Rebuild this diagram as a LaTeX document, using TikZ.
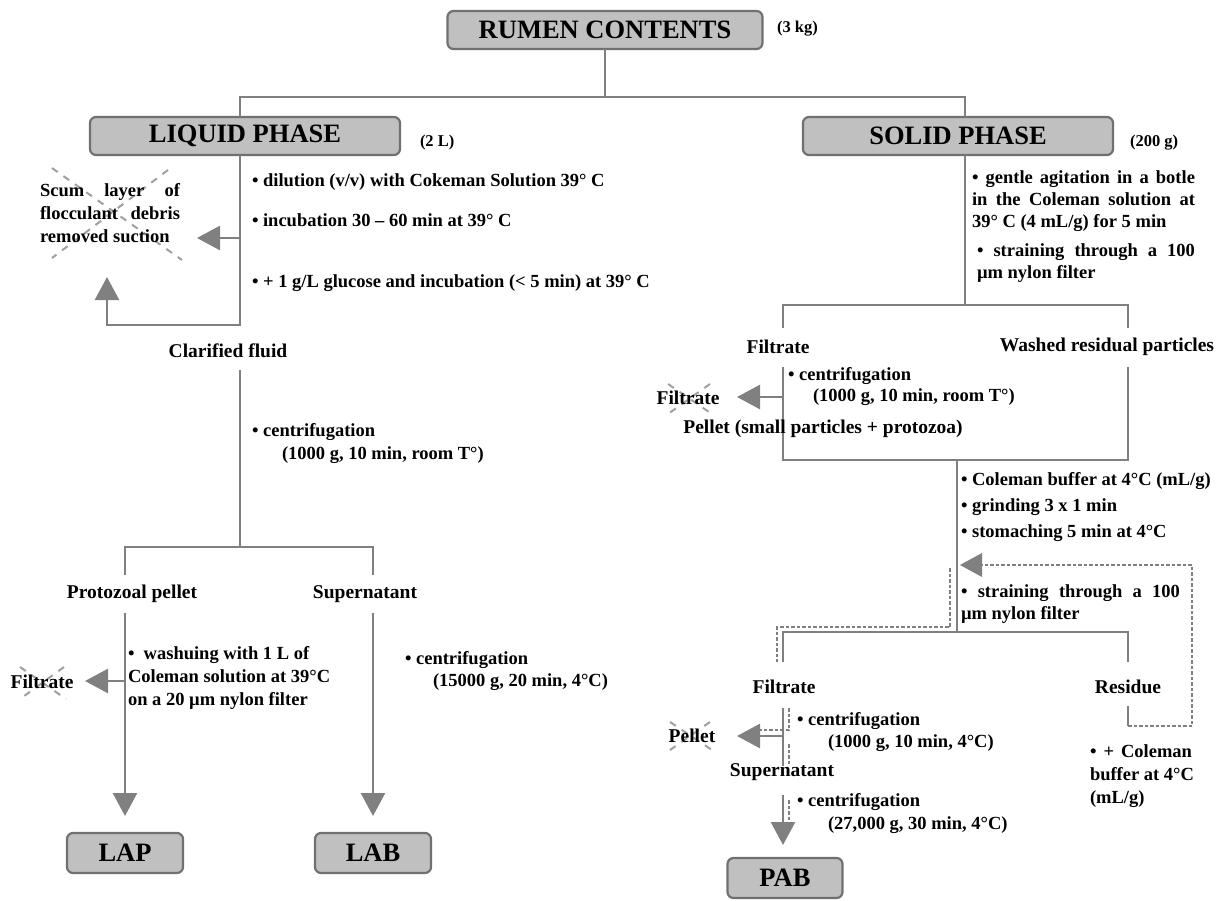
\documentclass[tikz,border=0pt]{standalone}
\usepackage{fontspec}
\setmainfont{Liberation Serif}
\usetikzlibrary{arrows.meta}
\definecolor{lngray}{RGB}{128,128,128}
\definecolor{boxfill}{RGB}{192,192,192}
\definecolor{boxdraw}{RGB}{112,112,112}
\definecolor{crossgray}{RGB}{160,160,160}
\begin{document}
\begin{tikzpicture}[x=1pt,y=-1pt,
  every node/.style={inner sep=0pt, outer sep=0pt},
  title/.style={draw=boxdraw, fill=boxfill, line width=2.2pt, rounded corners=6pt,
    font=\fontsize{26.5}{30}\selectfont\bfseries, minimum height=38pt},
  txt/.style={font=\fontsize{18.5}{23}\selectfont\bfseries, align=left},
  txtb/.style={font=\fontsize{18.5}{22}\selectfont\bfseries, align=left},
  lbl/.style={font=\fontsize{19.5}{23}\selectfont\bfseries},
  small/.style={font=\fontsize{16.5}{19}\selectfont\bfseries},
  ln/.style={draw=lngray, line width=2.6pt},
  arr/.style={ln, -{Triangle[length=23pt,width=24pt]}},
  xcross/.style={draw=crossgray, line width=2pt, dash pattern=on 7pt off 7pt},
  dsh/.style={draw=lngray, line width=1.3pt, dash pattern=on 3.5pt off 2pt}]
\useasboundingbox[fill=white] (0,0) rectangle (1224,900);

% ---------- top ----------
\node[title, minimum width=315pt] (rumen) at (605,30) {RUMEN CONTENTS};
\node[small, anchor=west] (kg) at (777,29) {(3 kg)};
\node[title, minimum width=310pt] (liquid) at (245,136) {LIQUID PHASE};
\node[small, anchor=west] (twoL) at (420,143) {(2 L)};
\node[title, minimum width=310pt] (solid) at (958,136) {SOLID PHASE};
\node[small, anchor=west] (g200) at (1130,143) {(200 g)};
\coordinate (top) at (605,97);
\coordinate (topL) at (240,97);
\coordinate (topR) at (965,97);
\draw[ln] (rumen.south) -- (top);
\draw[ln] (topL |- liquid.north) -- (topL) -- (topR) -- (topR |- solid.north);

% ---------- liquid phase ----------
\draw[xcross] (52,168) -- (182,260);
\draw[xcross] (168,170) -- (52,258);
\node[txt] (scum) at (110,213) {\makebox[140pt][s]{Scum layer of}\\\makebox[140pt][s]{flocculant debris}\\removed suction};
\coordinate (lqA) at (240,238);
\coordinate (lqB) at (240,325);
\coordinate (lqC) at (107,325);
\coordinate (scumR) at (197,238);
\coordinate (scumB) at (107,277);
\draw[arr] (liquid.south -| topL) -- (lqB) -- (lqC) -- (scumB);
\draw[arr] (lqA) -- (scumR);
\node[txt, anchor=west] (b1) at (252,182) {\textbullet\ dilution (v/v) with Cokeman Solution 39° C};
\node[txt, anchor=west] (b2) at (252,220) {\textbullet\ incubation 30 – 60 min at 39° C};
\node[txt, anchor=west] (b3) at (252,283) {\textbullet\ + 1 g/L glucose and incubation (< 5 min) at 39° C};
\node[lbl] (clar) at (228,351) {Clarified fluid};
\coordinate (lqE) at (240,370);
\coordinate (lqD) at (240,547);
\draw[ln] (lqE) -- (lqD);
\node[txt, anchor=west] (c1) at (252,432) {\textbullet\ centrifugation};
\node[txt, anchor=west] (c1b) at (282,455) {(1000 g, 10 min, room T°)};
\coordinate (lpL) at (125,547);
\coordinate (lpR) at (373,547);
\coordinate (lpL2) at (125,575);
\coordinate (lpR2) at (373,575);
\draw[ln] (lpL2) -- (lpL) -- (lpR) -- (lpR2);
\node[lbl] (proto) at (132,594) {Protozoal pellet};
\node[lbl] (super) at (365,594) {Supernatant};
\node[title, minimum width=116pt, minimum height=40pt] (lap) at (125,853) {LAP};
\node[title, minimum width=116pt, minimum height=40pt] (lab) at (373,853) {LAB};
\coordinate (lapT) at (125,613);
\coordinate (lapE) at (125,816);
\coordinate (labT) at (373,613);
\coordinate (labE) at (373,816);
\draw[arr] (lapT) -- (lapE);
\draw[arr] (labT) -- (labE);
\coordinate (fl1) at (125,681);
\coordinate (fl1E) at (85,681);
\draw[arr] (fl1) -- (fl1E);
\draw[xcross] (20,667) -- (66,699);
\draw[xcross] (64,667) -- (20,699);
\node[lbl] (filt1) at (42,682) {Filtrate};
\node[txt, anchor=north west] (wash) at (128,646) {\textbullet\ \ washuing with 1 L of\\Coleman solution at 39°C\\on a 20 µm nylon filter};
\node[txt, anchor=west] (c2) at (405,660) {\textbullet\ centrifugation};
\node[txt, anchor=west] (c2b) at (433,682) {(15000 g, 20 min, 4°C)};

% ---------- solid phase ----------
\node[txtb, anchor=north west] (ga) at (972,171) {\makebox[223pt][s]{\textbullet\ gentle agitation in a botle}\\\makebox[223pt][s]{in the Coleman solution at}\\39° C (4 mL/g) for 5 min};
\node[txtb, anchor=north west] (st1) at (977,244) {\makebox[218pt][s]{\textbullet\ straining through a 100}\\µm nylon filter};
\coordinate (sA) at (965,305);
\coordinate (sL) at (783,305);
\coordinate (sR) at (1128,305);
\coordinate (sL2) at (783,328);
\coordinate (sR2) at (1128,328);
\draw[ln] (solid.south -| topR) -- (sA);
\draw[ln] (sL2) -- (sL) -- (sR) -- (sR2);
\node[lbl] (filt2) at (778,347) {Filtrate};
\node[lbl] (washed) at (1107,347) {Washed residual particles};
\coordinate (sL3) at (783,367);
\coordinate (sR3) at (1128,367);
\coordinate (sL4) at (783,460);
\coordinate (sR4) at (1128,460);
\coordinate (sM) at (957,460);
\draw[ln] (sL3) -- (sL4) -- (sR4) -- (sR3);
\node[txt, anchor=west] (c3) at (788,376) {\textbullet\ centrifugation};
\node[txt, anchor=west] (c3b) at (813,397) {(1000 g, 10 min, room T°)};
\coordinate (fl2) at (783,397);
\coordinate (fl2E) at (737,397);
\draw[arr] (fl2) -- (fl2E);
\draw[xcross] (668,384) -- (712,414);
\draw[xcross] (710,384) -- (668,414);
\node[lbl] (filt3) at (688,398) {Filtrate};
\node[lbl] (pellet1) at (823,429) {Pellet (small particles + protozoa)};
\coordinate (sM2) at (957,632);
\coordinate (rL) at (783,632);
\coordinate (rR) at (1128,632);
\draw[ln] (sM) -- (sM2);
\node[txt, anchor=north west] (cb) at (961,472) {\textbullet\ Coleman buffer at 4°C (mL/g)\\[3pt]\textbullet\ grinding 3 x 1 min\\[3pt]\textbullet\ stomaching 5 min at 4°C};
\node[txtb, anchor=north west] (st2) at (961,585) {\makebox[219pt][s]{\textbullet\ straining through a 100}\\µm nylon filter};
\coordinate (rL2) at (783,662);
\coordinate (rR2) at (1128,662);
\draw[ln] (rL2) -- (rL) -- (rR) -- (rR2);
\node[lbl] (filt4) at (784,687) {Filtrate};
\node[lbl] (resid) at (1128,687) {Residue};
% recycling loop
\coordinate (rc1) at (1128,706);
\coordinate (rc2) at (1128,726);
\coordinate (rc3) at (1192,726);
\coordinate (rc4) at (1192,565);
\coordinate (rc5) at (960,565);
\draw[ln] (rc1) -- (rc2);
\draw[dsh, line width=2pt] (rc2) -- (rc3) -- (rc4) -- ([xshift=20pt]rc5);
\fill[lngray] (rc5) -- ++(22,-12) -- ++(0,24) -- cycle;
\node[txt, anchor=north west] (cb2) at (1090,745) {\makebox[102pt][s]{\textbullet\ + Coleman}\\buffer at 4°C\\(mL/g)};
% lower filtrate
\coordinate (pL1) at (783,708);
\coordinate (pL2) at (783,766);
\coordinate (pel) at (783,736);
\coordinate (pelE) at (737,736);
\draw[ln] (pL1) -- (pL2);
\draw[arr] (pel) -- (pelE);
\draw[xcross] (670,722) -- (712,750);
\draw[xcross] (710,722) -- (670,750);
\node[lbl] (pellet2) at (692,736) {Pellet};
\node[txt, anchor=west] (c4) at (797,721) {\textbullet\ centrifugation};
\node[txt, anchor=west] (c4b) at (828,743) {(1000 g, 10 min, 4°C)};
\node[lbl] (super2) at (782,772) {Supernatant};
\coordinate (pbT) at (783,795);
\coordinate (pbE) at (783,845);
\draw[arr] (pbT) -- (pbE);
\node[txt, anchor=west] (c5) at (797,802) {\textbullet\ centrifugation};
\node[txt, anchor=west] (c5b) at (828,825) {(27,000 g, 30 min, 4°C)};
\node[title, minimum width=115pt, minimum height=40pt] (pab) at (785,878) {PAB};
% parallel dashed trace of the recycled stream
\coordinate (d1) at (950,568);
\coordinate (d2) at (950,627);
\coordinate (d3) at (777,627);
\coordinate (d4) at (777,662);
\draw[dsh] (d1) -- (d2) -- (d3) -- (d4);
\draw[dsh] (789,708) -- (789,730) -- (760,730);
\draw[dsh] (789,744) -- (789,766);
\draw[dsh] (789,800) -- (789,822);
\end{tikzpicture}
\end{document}
